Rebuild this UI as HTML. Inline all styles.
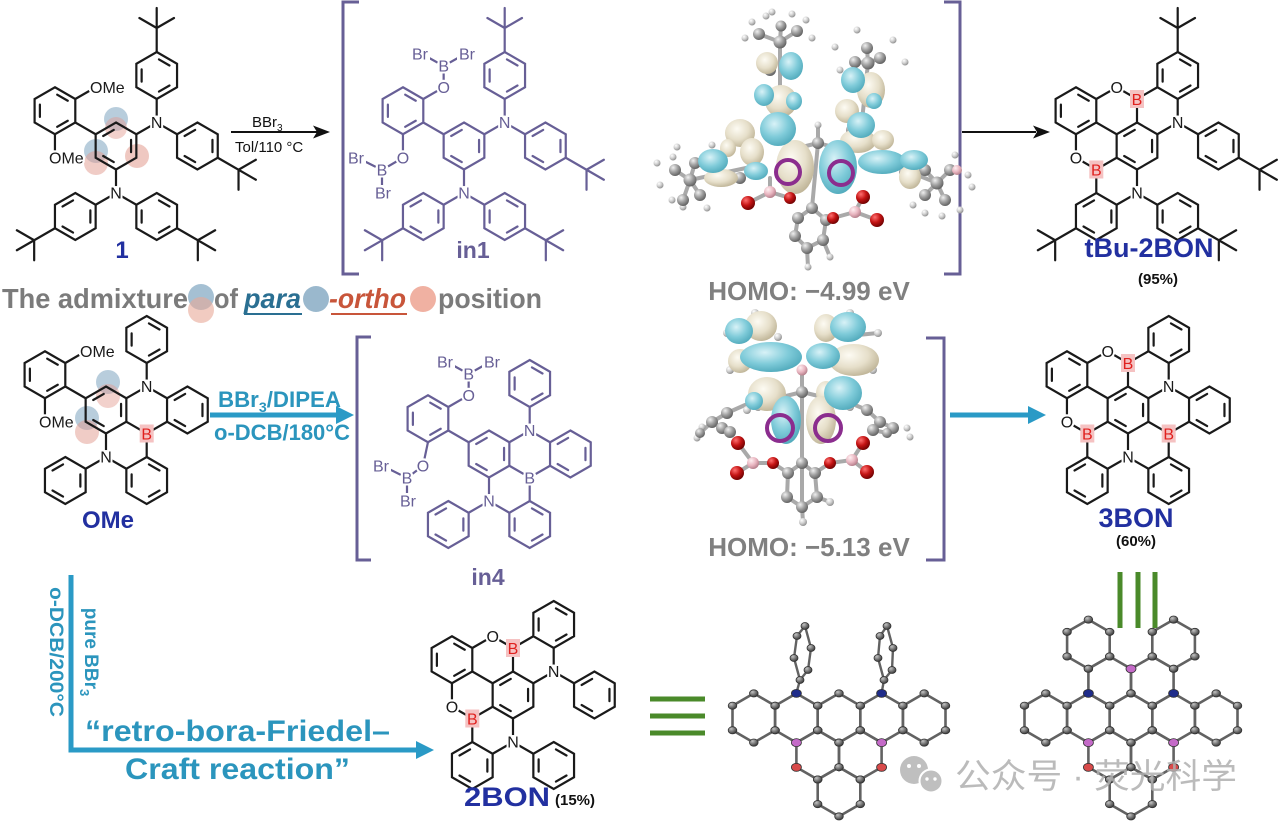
<!DOCTYPE html>
<html><head><meta charset="utf-8">
<style>
html,body{margin:0;padding:0;background:#fff;}
svg{display:block;}
.a{font-family:"Liberation Sans",Arial,sans-serif;font-size:16px;text-anchor:middle;paint-order:stroke;stroke:#fff;stroke-width:4px;stroke-linejoin:round;}
.s{text-anchor:start;}
.lb{font-family:"Liberation Sans",Arial,sans-serif;font-weight:bold;}
.br{fill:#e0201e;stroke:none;}
</style></head><body>
<svg width="1280" height="827" viewBox="0 0 1280 827" xmlns="http://www.w3.org/2000/svg">
<defs>
<path id="hA" d="M0,-23.5L20.35,-11.75L20.35,11.75L0,23.5L-20.35,11.75L-20.35,-11.75Z M2.26,-16.09L12.8,-10 M12.8,10L2.26,16.09 M-15.06,6.09L-15.06,-6.09"/>
<path id="hB" d="M0,-23.5L20.35,-11.75L20.35,11.75L0,23.5L-20.35,11.75L-20.35,-11.75Z M15.06,-6.09L15.06,6.09 M-2.26,16.09L-12.8,10 M-12.8,-10L-2.26,-16.09"/>
<radialGradient id="gb" cx="0.4" cy="0.35" r="0.7"><stop offset="0" stop-color="#d8f2f7"/><stop offset="0.55" stop-color="#7fcbd9"/><stop offset="1" stop-color="#4ea8ba"/></radialGradient>
<radialGradient id="gy" cx="0.4" cy="0.35" r="0.7"><stop offset="0" stop-color="#fdfbf3"/><stop offset="0.55" stop-color="#e6dfca"/><stop offset="1" stop-color="#bcb193"/></radialGradient>
<radialGradient id="gc" cx="0.35" cy="0.3" r="0.75"><stop offset="0" stop-color="#f0f0f0"/><stop offset="0.5" stop-color="#a0a0a0"/><stop offset="1" stop-color="#5c5c5c"/></radialGradient>
<radialGradient id="gh" cx="0.35" cy="0.3" r="0.75"><stop offset="0" stop-color="#ffffff"/><stop offset="0.5" stop-color="#cfcfcf"/><stop offset="1" stop-color="#8a8a8a"/></radialGradient>
<radialGradient id="gr" cx="0.35" cy="0.3" r="0.75"><stop offset="0" stop-color="#ff7070"/><stop offset="0.5" stop-color="#c41414"/><stop offset="1" stop-color="#6a0000"/></radialGradient>
<radialGradient id="gp" cx="0.35" cy="0.3" r="0.75"><stop offset="0" stop-color="#fff0f2"/><stop offset="0.55" stop-color="#e8b4bf"/><stop offset="1" stop-color="#b07a86"/></radialGradient>
<radialGradient id="gx" cx="0.35" cy="0.3" r="0.75"><stop offset="0" stop-color="#c4c4c4"/><stop offset="0.5" stop-color="#7a7a7a"/><stop offset="1" stop-color="#333"/></radialGradient>
<g id="hx"><path d="M0,-24.6L21.3,-12.3L21.3,12.3L0,24.6L-21.3,12.3L-21.3,-12.3Z" fill="none" stroke="#626262" stroke-width="2.6"/><g fill="url(#gx)" stroke="#333" stroke-width="0.8"><ellipse cx="0" cy="-24.6" rx="4.3" ry="3.6"/><ellipse cx="21.3" cy="-12.3" rx="4.3" ry="3.6"/><ellipse cx="21.3" cy="12.3" rx="4.3" ry="3.6"/><ellipse cx="0" cy="24.6" rx="4.3" ry="3.6"/><ellipse cx="-21.3" cy="12.3" rx="4.3" ry="3.6"/><ellipse cx="-21.3" cy="-12.3" rx="4.3" ry="3.6"/></g></g>
</defs>

<!-- ============ Compound 1 ============ -->
<g fill-opacity="0.6">
<circle cx="116" cy="119" r="12" fill="#88acc4"/>
<circle cx="116" cy="128" r="11" fill="#e29a8e" fill-opacity="0.45"/>
<circle cx="96" cy="151" r="12" fill="#88acc4"/>
<circle cx="96" cy="163" r="12" fill="#e29a8e" fill-opacity="0.5"/>
<circle cx="137" cy="156" r="12" fill="#e29a8e" fill-opacity="0.55"/>
</g>
<g transform="translate(116,146)">
<g fill="none" stroke="#1a1a1a" stroke-width="2.2" stroke-linecap="round">
<use href="#hA" x="-61.05" y="-35.25"/><use href="#hB" x="0" y="0"/><use href="#hA" x="40.7" y="-70.5"/><use href="#hB" x="81.4" y="0"/><use href="#hB" x="-40.7" y="70.5"/><use href="#hA" x="40.7" y="70.5"/>
<path d="M-40.7,-23.5L-20.35,-11.75 M20.35,-11.75L40.7,-23.5L61.05,-11.75M40.7,-47L40.7,-23.5 M0,23.5L0,47M-20.35,58.75L0,47L20.35,58.75 M-40.7,-47L-20.35,-58.75M-61.05,-11.75L-61.05,11.75 M40.7,-94L40.7,-138M40.7,-118L58,-128M40.7,-118L23.4,-128M101.75,11.75L139.85,33.75M122.53,23.75L122.53,43.75M122.53,23.75L139.85,13.75M-61.05,82.25L-99.15,104.25M-81.83,94.25L-81.83,114.25M-81.83,94.25L-99.15,84.25M61.05,82.25L99.15,104.25M81.83,94.25L81.83,114.25M81.83,94.25L99.15,84.25"/>
</g>
<g fill="#fff"><circle cx="40.7" cy="-23.5" r="7"/><circle cx="0" cy="47" r="7"/><circle cx="-20.35" cy="-58.75" r="7.5"/><circle cx="-61.05" cy="11.75" r="7.5"/></g>
<g fill="#1a1a1a">
<text class="a" x="40.7" y="-18">N</text><text class="a" x="0" y="52.5">N</text>
<text class="a s" x="-26" y="-53">OMe</text><text class="a s" x="-67" y="17.5">OMe</text>
</g>
</g>
<text class="lb" x="122" y="258" font-size="24" fill="#2230a0" text-anchor="middle">1</text>

<!-- arrow 1 -->
<line x1="231" y1="132" x2="318" y2="132" stroke="#111" stroke-width="2"/>
<polygon points="330,132 313,125.5 317,132 313,138.5" fill="#111"/>
<text x="252" y="127" font-family="Liberation Sans, sans-serif" font-size="15" fill="#111">BBr<tspan font-size="10" dy="4">3</tspan></text>
<text x="235" y="152" font-family="Liberation Sans, sans-serif" font-size="15" fill="#111">Tol/110 °C</text>

<!-- in1 bracket -->
<path d="M359,2L343,2L343,274L359,274" fill="none" stroke="#675f96" stroke-width="3"/>
<path d="M944,2L960,2L960,274L944,274" fill="none" stroke="#675f96" stroke-width="3"/>

<!-- ============ in1 ============ -->
<g transform="translate(464,146)">
<g fill="none" stroke="#675f96" stroke-width="2.2" stroke-linecap="round">
<use href="#hA" x="-61.05" y="-35.25"/><use href="#hB" x="0" y="0"/><use href="#hA" x="40.7" y="-70.5"/><use href="#hB" x="81.4" y="0"/><use href="#hB" x="-40.7" y="70.5"/><use href="#hA" x="40.7" y="70.5"/>
<path d="M-40.7,-23.5L-20.35,-11.75 M20.35,-11.75L40.7,-23.5L61.05,-11.75M40.7,-47L40.7,-23.5 M0,23.5L0,47M-20.35,58.75L0,47L20.35,58.75 M-40.7,-47L-20.35,-58.75L-20.35,-80M-42,-92L-20.35,-80L1,-92M-61.05,-11.75L-61.05,11.75L-82,24L-106,12M-82,24L-82,47 M40.7,-94L40.7,-138M40.7,-118L58,-128M40.7,-118L23.4,-128M101.75,11.75L139.85,33.75M122.53,23.75L122.53,43.75M122.53,23.75L139.85,13.75M-61.05,82.25L-99.15,104.25M-81.83,94.25L-81.83,114.25M-81.83,94.25L-99.15,84.25M61.05,82.25L99.15,104.25M81.83,94.25L81.83,114.25M81.83,94.25L99.15,84.25"/>
</g>
<g fill="#fff"><circle cx="40.7" cy="-23.5" r="7"/><circle cx="0" cy="47" r="7"/><circle cx="-20.35" cy="-58.75" r="7.5"/><circle cx="-20.35" cy="-80" r="7"/><circle cx="-61.05" cy="11.75" r="7.5"/><circle cx="-82" cy="24" r="7"/><rect x="-53" y="-100" width="19" height="15"/><rect x="-7" y="-100" width="19" height="15"/><rect x="-117" y="4" width="19" height="15"/><rect x="-91" y="39" width="19" height="15"/></g>
<g fill="#675f96">
<text class="a" x="40.7" y="-18">N</text><text class="a" x="0" y="52.5">N</text>
<text class="a" x="-20.35" y="-53">O</text><text class="a" x="-20.35" y="-74.5">B</text>
<text class="a" x="-44" y="-86.5">Br</text><text class="a" x="3" y="-86.5">Br</text>
<text class="a" x="-61.05" y="17.5">O</text><text class="a" x="-82" y="29.5">B</text>
<text class="a" x="-108" y="17.5">Br</text><text class="a" x="-81" y="52.5">Br</text>
</g>
</g>
<text class="lb" x="473" y="258" font-size="23" fill="#675f96" text-anchor="middle">in1</text>

<!-- admixture line -->
<g font-family="Liberation Sans, sans-serif" font-weight="bold" font-size="28">
<text x="2" y="308" fill="#7b7b7b" textLength="186" lengthAdjust="spacingAndGlyphs">The admixture</text>
<circle cx="201" cy="297" r="13" fill="#8fb0c8" fill-opacity="0.8"/>
<circle cx="201" cy="310" r="13" fill="#e8a898" fill-opacity="0.6"/>
<text x="214" y="308" fill="#7b7b7b" textLength="24" lengthAdjust="spacingAndGlyphs">of</text>
<text x="244" y="308" fill="#2a6f92" font-style="italic" textLength="57" lengthAdjust="spacingAndGlyphs">para</text>
<line x1="244" y1="314" x2="302" y2="314" stroke="#2a6f92" stroke-width="2"/>
<circle cx="316" cy="299" r="13" fill="#8fb0c8" fill-opacity="0.9"/>
<text x="329" y="308" fill="#c8553a" font-style="italic" textLength="77" lengthAdjust="spacingAndGlyphs">-ortho</text>
<line x1="331" y1="314" x2="407" y2="314" stroke="#c8553a" stroke-width="2"/>
<circle cx="423" cy="299" r="13" fill="#eea898" fill-opacity="0.9"/>
<text x="438" y="308" fill="#7b7b7b" textLength="104" lengthAdjust="spacingAndGlyphs">position</text>
</g>

<!-- ============ Orbital 1 ============ -->
<g>
<path stroke="#a9a9a9" stroke-width="4" fill="none" stroke-linecap="round" d="M780,42L780,120 M780,42L759,34 M780,42L797,31 M780,42L781,26 M868,63L855,62 M868,63L880,58 M868,63L867,48 M868,63L860,140 M690,180L675,170 M690,180L700,195 M690,180L695,163 M690,180L683,200 M690,180L760,165 M937,183L925,170 M937,183L950,170 M937,183L945,200 M937,183L925,195 M937,183L880,160 M818,143L818,125 M818,143L812,208 M818,143L790,150 M818,143L845,150 M812,208L826,220L823,240L807,248L795,236L798,218Z M748,203L770,192L790,198 M770,192L770,178 M833,218L855,212L877,220 M855,212L863,197 M823,240L830,257 M807,248L808,267"/>
<g fill="url(#gh)">
<circle cx="745" cy="38" r="3.5"/><circle cx="752" cy="22" r="3.5"/><circle cx="766" cy="16" r="3.5"/><circle cx="792" cy="14" r="3.5"/><circle cx="806" cy="20" r="3.5"/><circle cx="812" cy="38" r="3.5"/><circle cx="772" cy="12" r="3.5"/><circle cx="840" cy="70" r="3.5"/><circle cx="835" cy="47" r="3.5"/><circle cx="857" cy="30" r="3.5"/><circle cx="893" cy="40" r="3.5"/><circle cx="905" cy="62" r="3.5"/><circle cx="848" cy="80" r="3.5"/><circle cx="657" cy="163" r="3.5"/><circle cx="673" cy="157" r="3.5"/><circle cx="677" cy="147" r="3.5"/><circle cx="672" cy="200" r="3.5"/><circle cx="683" cy="207" r="3.5"/><circle cx="707" cy="208" r="3.5"/><circle cx="660" cy="185" r="3.5"/><circle cx="955" cy="155" r="3.5"/><circle cx="968" cy="175" r="3.5"/><circle cx="972" cy="187" r="3.5"/><circle cx="960" cy="210" r="3.5"/><circle cx="942" cy="216" r="3.5"/><circle cx="925" cy="213" r="3.5"/><circle cx="913" cy="205" r="3.5"/><circle cx="818" cy="125" r="3.5"/><circle cx="830" cy="257" r="3.5"/><circle cx="808" cy="267" r="3.5"/><circle cx="712" cy="145" r="3.5"/><circle cx="748" cy="130" r="3.5"/>
</g>
<g fill="url(#gc)">
<circle cx="780" cy="42" r="6.5"/><circle cx="759" cy="34" r="6"/><circle cx="797" cy="31" r="6"/><circle cx="781" cy="26" r="5.5"/><circle cx="868" cy="63" r="6.5"/><circle cx="855" cy="62" r="6"/><circle cx="880" cy="58" r="6"/><circle cx="867" cy="48" r="6"/><circle cx="690" cy="180" r="6.5"/><circle cx="675" cy="170" r="6"/><circle cx="700" cy="195" r="6"/><circle cx="695" cy="163" r="6"/><circle cx="683" cy="200" r="6"/><circle cx="937" cy="183" r="6.5"/><circle cx="925" cy="170" r="6"/><circle cx="950" cy="170" r="6"/><circle cx="945" cy="200" r="6"/><circle cx="925" cy="195" r="6"/><circle cx="818" cy="143" r="6"/><circle cx="812" cy="208" r="6"/><circle cx="826" cy="220" r="6"/><circle cx="823" cy="240" r="6"/><circle cx="807" cy="248" r="6"/><circle cx="795" cy="236" r="6"/><circle cx="798" cy="218" r="6"/><circle cx="905" cy="172" r="6"/><circle cx="740" cy="178" r="6"/><circle cx="770" cy="70" r="6"/><circle cx="852" cy="130" r="6"/>
</g>
<g fill="url(#gy)">
<ellipse cx="781" cy="101" rx="16" ry="16"/><ellipse cx="767" cy="63" rx="11" ry="11"/><ellipse cx="740" cy="133" rx="15" ry="14"/><ellipse cx="752" cy="152" rx="12" ry="14"/><ellipse cx="721" cy="178" rx="17" ry="9"/><ellipse cx="795" cy="167" rx="19" ry="27"/><ellipse cx="871" cy="90" rx="14" ry="18"/><ellipse cx="847" cy="111" rx="12" ry="12"/><ellipse cx="858" cy="141" rx="18" ry="12"/><ellipse cx="883" cy="140" rx="11" ry="10"/><ellipse cx="910" cy="177" rx="11" ry="12"/><ellipse cx="728" cy="148" rx="8" ry="9"/>
</g>
<g fill="url(#gb)">
<ellipse cx="778" cy="129" rx="18" ry="17"/><ellipse cx="791" cy="66" rx="12" ry="14"/><ellipse cx="764" cy="95" rx="10" ry="11"/><ellipse cx="794" cy="101" rx="8" ry="9"/><ellipse cx="713" cy="161" rx="15" ry="12"/><ellipse cx="756" cy="171" rx="12" ry="9"/><ellipse cx="838" cy="167" rx="19" ry="27"/><ellipse cx="853" cy="80" rx="12" ry="13"/><ellipse cx="861" cy="125" rx="14" ry="13"/><ellipse cx="874" cy="101" rx="8" ry="8"/><ellipse cx="882" cy="162" rx="24" ry="12"/><ellipse cx="914" cy="160" rx="14" ry="10"/>
</g>
<g fill="url(#gr)"><circle cx="748" cy="203" r="7"/><circle cx="790" cy="198" r="6"/><circle cx="833" cy="218" r="6"/><circle cx="863" cy="197" r="7"/><circle cx="877" cy="220" r="7"/></g>
<g fill="url(#gp)"><circle cx="770" cy="192" r="6"/><circle cx="855" cy="212" r="6"/><circle cx="957" cy="170" r="5"/></g>
<circle cx="788" cy="172" r="12" fill="none" stroke="#8b2d8e" stroke-width="4"/>
<circle cx="841" cy="173" r="12" fill="none" stroke="#8b2d8e" stroke-width="4"/>
</g>
<text class="lb" x="809" y="300" font-size="26" fill="#808080" text-anchor="middle">HOMO: −4.99 eV</text>

<!-- arrow 2 -->
<line x1="962" y1="132" x2="1036" y2="132" stroke="#111" stroke-width="2"/>
<polygon points="1050,132 1033,125.5 1037,132 1033,138.5" fill="#111"/>

<!-- ============ tBu-2BON ============ -->
<g transform="translate(1137,146)">
<g fill="none" stroke="#1a1a1a" stroke-width="2.2" stroke-linecap="round">
<use href="#hA" x="-61.05" y="-35.25"/><use href="#hB" x="0" y="0"/><use href="#hA" x="40.7" y="-70.5"/><use href="#hB" x="81.4" y="0"/><use href="#hB" x="-40.7" y="70.5"/><use href="#hA" x="40.7" y="70.5"/>
<path d="M-40.7,-23.5L-20.35,-11.75 M20.35,-11.75L40.7,-23.5L61.05,-11.75M40.7,-47L40.7,-23.5 M0,23.5L0,47M-20.35,58.75L0,47L20.35,58.75 M-40.7,-47L-20.35,-58.75L0,-47L0,-23.5M0,-47L20.35,-58.75 M-61.05,-11.75L-61.05,11.75L-40.7,23.5L-20.35,11.75M-40.7,23.5L-40.7,47 M40.7,-94L40.7,-138M40.7,-118L58,-128M40.7,-118L23.4,-128M101.75,11.75L139.85,33.75M122.53,23.75L122.53,43.75M122.53,23.75L139.85,13.75M-61.05,82.25L-99.15,104.25M-81.83,94.25L-81.83,114.25M-81.83,94.25L-99.15,84.25M61.05,82.25L99.15,104.25M81.83,94.25L81.83,114.25M81.83,94.25L99.15,84.25"/>
</g>
<g fill="#fff"><circle cx="40.7" cy="-23.5" r="7"/><circle cx="0" cy="47" r="7"/><circle cx="-20.35" cy="-58.75" r="7.5"/><circle cx="-61.05" cy="11.75" r="7.5"/></g>
<g fill="#1a1a1a">
<text class="a" x="40.7" y="-18">N</text><text class="a" x="0" y="52.5">N</text>
<text class="a" x="-20.35" y="-53">O</text><text class="a" x="-61.05" y="17.5">O</text>
</g>
<rect x="-7" y="-56" width="14" height="18" fill="#f5c2c2"/><text class="a br" x="0" y="-41">B</text>
<rect x="-47.7" y="14.5" width="14" height="18" fill="#f5c2c2"/><text class="a br" x="-40.7" y="29.5">B</text>
</g>
<text class="lb" x="1149" y="257" font-size="27" fill="#2230a0" text-anchor="middle">tBu-2BON</text>
<text class="lb" x="1158" y="284" font-size="15" fill="#111" text-anchor="middle">(95%)</text>

<!-- ============ OMe compound ============ -->
<g fill-opacity="0.6">
<circle cx="108" cy="382" r="12" fill="#88acc4"/>
<circle cx="108" cy="396" r="12" fill="#e29a8e" fill-opacity="0.45"/>
<circle cx="87" cy="418" r="12" fill="#88acc4"/>
<circle cx="87" cy="432" r="12" fill="#e29a8e" fill-opacity="0.5"/>
</g>
<g transform="translate(106,410)">
<g fill="none" stroke="#1a1a1a" stroke-width="2.2" stroke-linecap="round">
<use href="#hA" x="-61.05" y="-35.25"/><use href="#hB" x="0" y="0"/><use href="#hA" x="40.7" y="-70.5"/><use href="#hB" x="81.4" y="0"/><use href="#hB" x="-40.7" y="70.5"/><use href="#hA" x="40.7" y="70.5"/>
<path d="M-40.7,-23.5L-20.35,-11.75 M20.35,-11.75L40.7,-23.5L61.05,-11.75M40.7,-47L40.7,-23.5 M0,23.5L0,47M-20.35,58.75L0,47L20.35,58.75 M20.35,11.75L40.7,23.5L61.05,11.75M40.7,23.5L40.7,47 M-40.7,-47L-20.35,-58.75M-61.05,-11.75L-61.05,11.75"/>
</g>
<g fill="#fff"><circle cx="40.7" cy="-23.5" r="7"/><circle cx="0" cy="47" r="7"/><circle cx="-20.35" cy="-58.75" r="7.5"/><circle cx="-61.05" cy="11.75" r="7.5"/></g>
<g fill="#1a1a1a">
<text class="a" x="40.7" y="-18">N</text><text class="a" x="0" y="52.5">N</text>
<text class="a s" x="-26" y="-53">OMe</text><text class="a s" x="-67" y="17.5">OMe</text>
</g>
<rect x="33.7" y="14.5" width="14" height="18" fill="#f5c2c2"/><text class="a br" x="40.7" y="29.5">B</text>
</g>
<text class="lb" x="108" y="528" font-size="24" fill="#2230a0" text-anchor="middle">OMe</text>

<!-- cyan arrow middle -->
<line x1="210" y1="415" x2="340" y2="415" stroke="#2a9ac6" stroke-width="5"/>
<polygon points="354,415 336,406 336,424" fill="#2a9ac6"/>
<text class="lb" x="218" y="407" font-size="22" fill="#2b95bd" textLength="123" lengthAdjust="spacingAndGlyphs">BBr<tspan font-size="14" dy="5">3</tspan><tspan dy="-5">/DIPEA</tspan></text>
<text class="lb" x="214" y="440" font-size="22" fill="#2b95bd" textLength="136" lengthAdjust="spacingAndGlyphs">o-DCB/180°C</text>

<!-- in4 brackets -->
<path d="M371,337L357,337L357,560L371,560" fill="none" stroke="#675f96" stroke-width="3"/>
<path d="M926,338L944,338L944,560L926,560" fill="none" stroke="#675f96" stroke-width="3"/>

<!-- ============ in4 ============ -->
<g transform="translate(489,454)">
<g fill="none" stroke="#675f96" stroke-width="2.2" stroke-linecap="round">
<use href="#hA" x="-61.05" y="-35.25"/><use href="#hB" x="0" y="0"/><use href="#hA" x="40.7" y="-70.5"/><use href="#hB" x="81.4" y="0"/><use href="#hB" x="-40.7" y="70.5"/><use href="#hA" x="40.7" y="70.5"/>
<path d="M-40.7,-23.5L-20.35,-11.75 M20.35,-11.75L40.7,-23.5L61.05,-11.75M40.7,-47L40.7,-23.5 M0,23.5L0,47M-20.35,58.75L0,47L20.35,58.75 M20.35,11.75L40.7,23.5L61.05,11.75M40.7,23.5L40.7,47 M-40.7,-47L-20.35,-58.75L-20.35,-80M-42,-92L-20.35,-80L1,-92M-61.05,-11.75L-66,11.75L-82,24L-106,12M-82,24L-82,47"/>
</g>
<g fill="#fff"><circle cx="40.7" cy="-23.5" r="7"/><circle cx="0" cy="47" r="7"/><circle cx="40.7" cy="23.5" r="7"/><circle cx="-20.35" cy="-58.75" r="7.5"/><circle cx="-20.35" cy="-80" r="7"/><circle cx="-66" cy="11.75" r="7.5"/><circle cx="-82" cy="24" r="7"/><rect x="-53" y="-100" width="19" height="15"/><rect x="-7" y="-100" width="19" height="15"/><rect x="-117" y="4" width="19" height="15"/><rect x="-91" y="39" width="19" height="15"/></g>
<g fill="#675f96">
<text class="a" x="40.7" y="-18">N</text><text class="a" x="0" y="52.5">N</text><text class="a" x="40.7" y="29.5">B</text>
<text class="a" x="-20.35" y="-53">O</text><text class="a" x="-20.35" y="-74.5">B</text>
<text class="a" x="-44" y="-86.5">Br</text><text class="a" x="3" y="-86.5">Br</text>
<text class="a" x="-66" y="17.5">O</text><text class="a" x="-82" y="29.5">B</text>
<text class="a" x="-108" y="17.5">Br</text><text class="a" x="-81" y="52.5">Br</text>
</g>
</g>
<text class="lb" x="488" y="585" font-size="23" fill="#675f96" text-anchor="middle">in4</text>

<!-- ============ Orbital 2 ============ -->
<g>
<path stroke="#a9a9a9" stroke-width="4" fill="none" stroke-linecap="round" d="M802,370L802,507 M802,392L770,400 M802,392L835,400 M727,413L712,422L700,433 M712,422L722,428L730,432 M727,413L745,405 M867,410L880,422L893,428 M880,422L873,430L887,433 M867,410L855,405 M738,443L753,463L737,473 M753,463L773,463L788,473 M863,443L852,460L867,472 M852,460L830,463L815,473 M802,463L788,473L787,497L802,507L817,497L815,473Z M802,507L803,522 M817,497L830,502 M727,333L745,335 M755,313L760,325 M878,333L858,335 M850,313L845,325"/>
<g fill="url(#gh)">
<circle cx="727" cy="333" r="4"/><circle cx="755" cy="313" r="4"/><circle cx="778" cy="337" r="4"/><circle cx="850" cy="313" r="4"/><circle cx="878" cy="333" r="4"/><circle cx="730" cy="370" r="4"/><circle cx="873" cy="370" r="4"/><circle cx="697" cy="438" r="3.5"/><circle cx="702" cy="427" r="3.5"/><circle cx="747" cy="410" r="4"/><circle cx="758" cy="407" r="4"/><circle cx="850" cy="407" r="4"/><circle cx="907" cy="428" r="3.5"/><circle cx="910" cy="437" r="3.5"/><circle cx="803" cy="522" r="4"/><circle cx="830" cy="502" r="4"/>
</g>
<g fill="url(#gc)">
<circle cx="727" cy="413" r="6"/><circle cx="712" cy="422" r="6"/><circle cx="722" cy="428" r="6"/><circle cx="700" cy="433" r="5"/><circle cx="730" cy="432" r="6"/><circle cx="867" cy="410" r="6"/><circle cx="880" cy="422" r="6"/><circle cx="893" cy="428" r="6"/><circle cx="873" cy="430" r="6"/><circle cx="887" cy="433" r="5"/><circle cx="802" cy="392" r="6"/><circle cx="802" cy="463" r="6"/><circle cx="788" cy="473" r="6"/><circle cx="815" cy="473" r="6"/><circle cx="787" cy="497" r="6"/><circle cx="817" cy="497" r="6"/><circle cx="802" cy="507" r="6"/>
</g>
<g fill="url(#gy)">
<ellipse cx="761" cy="326" rx="16" ry="15"/><ellipse cx="826" cy="328" rx="12" ry="14"/><ellipse cx="740" cy="361" rx="12" ry="12"/><ellipse cx="854" cy="360" rx="25" ry="16"/><ellipse cx="767" cy="394" rx="19" ry="17"/><ellipse cx="826" cy="393" rx="10" ry="12"/><ellipse cx="821" cy="420" rx="15" ry="24"/>
</g>
<g fill="url(#gb)">
<ellipse cx="739" cy="331" rx="14" ry="13"/><ellipse cx="848" cy="327" rx="18" ry="15"/><ellipse cx="771" cy="357" rx="31" ry="15"/><ellipse cx="823" cy="356" rx="17" ry="13"/><ellipse cx="754" cy="401" rx="9" ry="9"/><ellipse cx="843" cy="393" rx="19" ry="17"/><ellipse cx="786" cy="420" rx="15" ry="24"/>
</g>
<g fill="url(#gr)"><circle cx="738" cy="443" r="7"/><circle cx="737" cy="473" r="7"/><circle cx="773" cy="463" r="6"/><circle cx="830" cy="463" r="6"/><circle cx="863" cy="443" r="7"/><circle cx="867" cy="472" r="7"/></g>
<g fill="url(#gp)"><circle cx="753" cy="463" r="6"/><circle cx="852" cy="460" r="6"/><circle cx="802" cy="370" r="5.5"/></g>
<circle cx="780" cy="428" r="13" fill="none" stroke="#8b2d8e" stroke-width="4"/>
<circle cx="828" cy="428" r="13" fill="none" stroke="#8b2d8e" stroke-width="4"/>
</g>
<text class="lb" x="809" y="556" font-size="26" fill="#808080" text-anchor="middle">HOMO: −5.13 eV</text>

<!-- cyan arrow right -->
<line x1="950" y1="415" x2="1032" y2="415" stroke="#2a9ac6" stroke-width="5"/>
<polygon points="1046,415 1028,406 1028,424" fill="#2a9ac6"/>

<!-- ============ 3BON ============ -->
<g transform="translate(1128,410)">
<g fill="none" stroke="#1a1a1a" stroke-width="2.2" stroke-linecap="round">
<use href="#hA" x="-61.05" y="-35.25"/><use href="#hB" x="0" y="0"/><use href="#hA" x="40.7" y="-70.5"/><use href="#hB" x="81.4" y="0"/><use href="#hB" x="-40.7" y="70.5"/><use href="#hA" x="40.7" y="70.5"/>
<path d="M-40.7,-23.5L-20.35,-11.75 M20.35,-11.75L40.7,-23.5L61.05,-11.75M40.7,-47L40.7,-23.5 M0,23.5L0,47M-20.35,58.75L0,47L20.35,58.75 M-40.7,-47L-20.35,-58.75L0,-47L0,-23.5M0,-47L20.35,-58.75 M-61.05,-11.75L-61.05,11.75L-40.7,23.5L-20.35,11.75M-40.7,23.5L-40.7,47 M20.35,11.75L40.7,23.5L61.05,11.75M40.7,23.5L40.7,47"/>
</g>
<g fill="#fff"><circle cx="40.7" cy="-23.5" r="7"/><circle cx="0" cy="47" r="7"/><circle cx="-20.35" cy="-58.75" r="7.5"/><circle cx="-61.05" cy="11.75" r="7.5"/></g>
<g fill="#1a1a1a">
<text class="a" x="40.7" y="-18">N</text><text class="a" x="0" y="52.5">N</text>
<text class="a" x="-20.35" y="-53">O</text><text class="a" x="-61.05" y="17.5">O</text>
</g>
<rect x="-7" y="-56" width="14" height="18" fill="#f5c2c2"/><text class="a br" x="0" y="-41">B</text>
<rect x="-47.7" y="14.5" width="14" height="18" fill="#f5c2c2"/><text class="a br" x="-40.7" y="29.5">B</text>
<rect x="33.7" y="14.5" width="14" height="18" fill="#f5c2c2"/><text class="a br" x="40.7" y="29.5">B</text>
</g>
<text class="lb" x="1136" y="527" font-size="27" fill="#2230a0" text-anchor="middle">3BON</text>
<text class="lb" x="1136" y="546" font-size="15" fill="#111" text-anchor="middle">(60%)</text>

<!-- L-shaped cyan arrow -->
<path d="M71,575L71,750L420,750" fill="none" stroke="#2a9ac6" stroke-width="5"/>
<polygon points="434,750 416,741 416,759" fill="#2a9ac6"/>
<text class="lb" font-size="19" fill="#2b95bd" text-anchor="middle" transform="translate(50,652) rotate(90)" textLength="130" lengthAdjust="spacingAndGlyphs">o-DCB/200°C</text>
<text class="lb" font-size="19" fill="#2b95bd" text-anchor="middle" transform="translate(85,652) rotate(90)">pure BBr<tspan font-size="13" dy="5">3</tspan></text>
<text class="lb" x="85" y="741" font-size="30" fill="#2b95bd" textLength="305" lengthAdjust="spacingAndGlyphs">“retro-bora-Friedel–</text>
<text class="lb" x="125" y="779" font-size="30" fill="#2b95bd" textLength="225" lengthAdjust="spacingAndGlyphs">Craft reaction”</text>

<!-- ============ 2BON ============ -->
<g transform="translate(513,695)">
<g fill="none" stroke="#1a1a1a" stroke-width="2.2" stroke-linecap="round">
<use href="#hA" x="-61.05" y="-35.25"/><use href="#hB" x="0" y="0"/><use href="#hA" x="40.7" y="-70.5"/><use href="#hB" x="81.4" y="0"/><use href="#hB" x="-40.7" y="70.5"/><use href="#hA" x="40.7" y="70.5"/>
<path d="M-40.7,-23.5L-20.35,-11.75 M20.35,-11.75L40.7,-23.5L61.05,-11.75M40.7,-47L40.7,-23.5 M0,23.5L0,47M-20.35,58.75L0,47L20.35,58.75 M-40.7,-47L-20.35,-58.75L0,-47L0,-23.5M0,-47L20.35,-58.75 M-61.05,-11.75L-61.05,11.75L-40.7,23.5L-20.35,11.75M-40.7,23.5L-40.7,47"/>
</g>
<g fill="#fff"><circle cx="40.7" cy="-23.5" r="7"/><circle cx="0" cy="47" r="7"/><circle cx="-20.35" cy="-58.75" r="7.5"/><circle cx="-61.05" cy="11.75" r="7.5"/></g>
<g fill="#1a1a1a">
<text class="a" x="40.7" y="-18">N</text><text class="a" x="0" y="52.5">N</text>
<text class="a" x="-20.35" y="-53">O</text><text class="a" x="-61.05" y="17.5">O</text>
</g>
<rect x="-7" y="-56" width="14" height="18" fill="#f5c2c2"/><text class="a br" x="0" y="-41">B</text>
<rect x="-47.7" y="14.5" width="14" height="18" fill="#f5c2c2"/><text class="a br" x="-40.7" y="29.5">B</text>
</g>
<text class="lb" x="464" y="806" font-size="27" fill="#2230a0" textLength="86" lengthAdjust="spacingAndGlyphs">2BON</text>
<text class="lb" x="555" y="805" font-size="15" fill="#111">(15%)</text>

<!-- green equals -->
<g stroke="#4a8a2a" stroke-width="5">
<line x1="650" y1="699" x2="705" y2="699"/><line x1="650" y1="716" x2="705" y2="716"/><line x1="650" y1="733" x2="705" y2="733"/>
<line x1="1120" y1="572" x2="1120" y2="628"/><line x1="1138" y1="572" x2="1138" y2="628"/><line x1="1155" y1="572" x2="1155" y2="628"/>
</g>

<!-- ============ Crystal structure 1 ============ -->
<g>
<path d="M796.4,693L800,680L808,670L811,648L805,626L797,636L794,658L800,680 M881.6,693L884,680L892,670L893,648L887,626L880,636L878,658L884,680" fill="none" stroke="#626262" stroke-width="2.4"/>
<g fill="url(#gx)" stroke="#333" stroke-width="0.8">
<ellipse cx="800" cy="680" rx="4" ry="3.5"/><ellipse cx="808" cy="670" rx="4" ry="3.5"/><ellipse cx="811" cy="648" rx="4" ry="3.5"/><ellipse cx="805" cy="626" rx="4" ry="3.5"/><ellipse cx="797" cy="636" rx="4" ry="3.5"/><ellipse cx="794" cy="658" rx="4" ry="3.5"/>
<ellipse cx="884" cy="680" rx="4" ry="3.5"/><ellipse cx="892" cy="670" rx="4" ry="3.5"/><ellipse cx="893" cy="648" rx="4" ry="3.5"/><ellipse cx="887" cy="626" rx="4" ry="3.5"/><ellipse cx="880" cy="636" rx="4" ry="3.5"/><ellipse cx="878" cy="658" rx="4" ry="3.5"/>
</g>
<use href="#hx" x="753.8" y="718"/><use href="#hx" x="796.4" y="718"/><use href="#hx" x="839" y="718"/><use href="#hx" x="881.6" y="718"/><use href="#hx" x="924.2" y="718"/>
<use href="#hx" x="817.7" y="754.9"/><use href="#hx" x="860.3" y="754.9"/>
<use href="#hx" x="839" y="791.8"/>
<g stroke="#333" stroke-width="0.8">
<ellipse cx="796.4" cy="693.4" rx="5" ry="4" fill="#1f2c8a"/><ellipse cx="881.6" cy="693.4" rx="5" ry="4" fill="#1f2c8a"/>
<ellipse cx="796.4" cy="742.6" rx="5" ry="4" fill="#c46ac8"/><ellipse cx="881.6" cy="742.6" rx="5" ry="4" fill="#c46ac8"/>
<ellipse cx="796.4" cy="767.3" rx="5" ry="4" fill="#d84a4a"/><ellipse cx="881.6" cy="767.3" rx="5" ry="4" fill="#d84a4a"/>
</g>
</g>

<!-- ============ Crystal structure 2 ============ -->
<g>
<use href="#hx" x="1088.4" y="644.2"/><use href="#hx" x="1173.6" y="644.2"/>
<use href="#hx" x="1109.7" y="681.1"/><use href="#hx" x="1152.3" y="681.1"/>
<use href="#hx" x="1045.8" y="718"/><use href="#hx" x="1088.4" y="718"/><use href="#hx" x="1131" y="718"/><use href="#hx" x="1173.6" y="718"/><use href="#hx" x="1216.2" y="718"/>
<use href="#hx" x="1109.7" y="754.9"/><use href="#hx" x="1152.3" y="754.9"/>
<use href="#hx" x="1131" y="791.8"/>
<g stroke="#333" stroke-width="0.8">
<ellipse cx="1131" cy="668.8" rx="5" ry="4" fill="#c46ac8"/>
<ellipse cx="1088.4" cy="693.4" rx="5" ry="4" fill="#1f2c8a"/><ellipse cx="1173.6" cy="693.4" rx="5" ry="4" fill="#1f2c8a"/>
<ellipse cx="1088.4" cy="742.6" rx="5" ry="4" fill="#c46ac8"/><ellipse cx="1173.6" cy="742.6" rx="5" ry="4" fill="#c46ac8"/>
<ellipse cx="1088.4" cy="767.3" rx="5" ry="4" fill="#d84a4a"/><ellipse cx="1173.6" cy="767.3" rx="5" ry="4" fill="#d84a4a"/>
</g>
</g>

<!-- watermark -->
<g opacity="0.85">
<circle cx="914" cy="770" r="14" fill="#b5b5b5"/>
<circle cx="931" cy="781" r="11.5" fill="#b5b5b5" stroke="#fff" stroke-width="2"/>
<circle cx="909" cy="766" r="2" fill="#fff"/><circle cx="919" cy="766" r="2" fill="#fff"/>
<circle cx="927" cy="779" r="1.7" fill="#fff"/><circle cx="935" cy="779" r="1.7" fill="#fff"/>
<text x="955" y="788" font-family="Liberation Sans, Noto Sans CJK SC, sans-serif" font-size="34" fill="#b0b0b0" textLength="282" lengthAdjust="spacingAndGlyphs">公众号 · 荧光科学</text>
</g>
</svg>
</body></html>
